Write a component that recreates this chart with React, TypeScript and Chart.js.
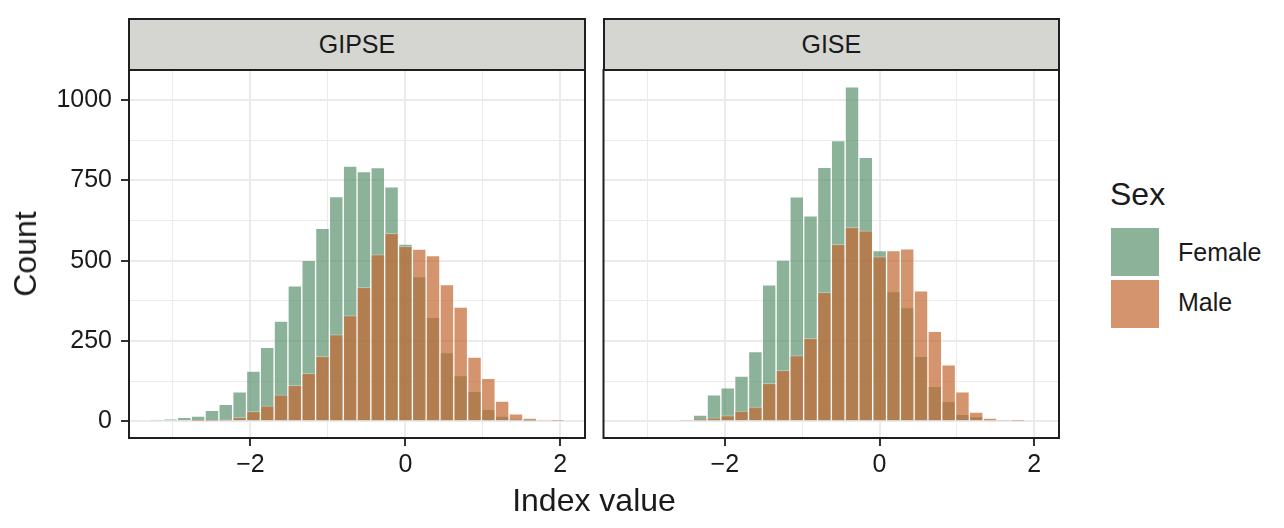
import React, { useEffect, useRef } from 'react';
import { Chart, registerables } from 'chart.js';

Chart.register(...registerables);

// ---- data ----
const panels = ['GIPSE', 'GISE'];
const sexLabels = ['Female', 'Male'];

// centres of the 30 histogram bins (Index value)
const binCenters = [
  -3.211, -3.032, -2.854, -2.676, -2.497, -2.319, -2.140, -1.962, -1.784, -1.605,
  -1.427, -1.248, -1.070, -0.892, -0.713, -0.535, -0.356, -0.178, 0.001, 0.179,
  0.357, 0.536, 0.714, 0.893, 1.071, 1.249, 1.428, 1.606, 1.785, 1.963,
];

const gipseFemale = [
  4, 6, 12, 16, 34, 53, 92, 156, 230, 312,
  422, 501, 601, 700, 795, 778, 790, 730, 552, 451,
  324, 214, 142, 93, 37, 16, 6, 2, 0, 0,
];
const gipseMale = [
  0, 0, 0, 2, 2, 5, 12, 31, 48, 82,
  112, 149, 202, 270, 329, 417, 519, 585, 545, 536,
  516, 426, 356, 200, 134, 63, 23, 10, 4, 2,
];
const giseFemale = [
  0, 0, 0, 0, 3, 19, 82, 104, 141, 217,
  425, 502, 699, 640, 791, 874, 1042, 822, 532, 404,
  354, 202, 109, 62, 22, 15, 3, 0, 0, 0,
];
const giseMale = [
  0, 0, 0, 0, 0, 7, 11, 18, 32, 44,
  118, 159, 205, 258, 402, 551, 604, 593, 513, 532,
  537, 406, 280, 176, 92, 29, 10, 3, 2, 0,
];

const xTicks = [-3, -2, -1, 0, 1, 2];
const xMajorTicks = [-2, 0, 2];
const yTicks = [0, 125, 250, 375, 500, 625, 750, 875, 1000];
const yMajorTicks = [0, 250, 500, 750, 1000];

const X_MIN = -3.568;
const X_MAX = 2.319;
const Y_MIN = -52.1;
const Y_MAX = 1094.1;

// ---- styles ----
const FONT = '"Liberation Sans", Arial, Helvetica, sans-serif';
const FEMALE_FILL = 'rgba(92,146,111,0.7)';
const MALE_FILL = 'rgba(194,104,49,0.7)';
const BAR_EDGE = 'rgba(255,255,255,0.28)';
const GRID = '#EBEBEB';
const DARK = '#1f1f1f';
const TEXT = '#1a1a1a';

const fmtX = (v: number) => (v < 0 ? '\u2212' + Math.abs(v) : String(v));

const panelBorder = {
  id: 'panelBorder',
  afterDraw(chart: any) {
    const { ctx, chartArea } = chart;
    ctx.save();
    ctx.strokeStyle = DARK;
    ctx.lineWidth = 2;
    ctx.strokeRect(chartArea.left, chartArea.top, chartArea.right - chartArea.left, chartArea.bottom - chartArea.top);
    ctx.restore();
  },
};

function Panel(props: {
  female: number[];
  male: number[];
  showY: boolean;
  left: number;
  width: number;
  yWidth: number;
}) {
  const ref = useRef<HTMLCanvasElement | null>(null);
  useEffect(() => {
    if (!ref.current) return;
    const isMajorX = (c: any) => c.tick && xMajorTicks.includes(c.tick.value);
    const isMajorY = (c: any) => c.tick && yMajorTicks.includes(c.tick.value);
    const chart = new Chart(ref.current, {
      type: 'bar',
      data: {
        datasets: [
          {
            label: sexLabels[0],
            data: binCenters.map((x, i) => ({ x, y: props.female[i] })),
            backgroundColor: FEMALE_FILL,
            borderColor: BAR_EDGE,
            borderWidth: 1,
            borderSkipped: 'start',
            grouped: false,
            order: 1,
            barPercentage: 1,
            categoryPercentage: 1,
          },
          {
            label: sexLabels[1],
            data: binCenters.map((x, i) => ({ x, y: props.male[i] })),
            backgroundColor: MALE_FILL,
            borderColor: BAR_EDGE,
            borderWidth: 1,
            borderSkipped: 'start',
            grouped: false,
            order: 0,
            barPercentage: 1,
            categoryPercentage: 1,
          },
        ],
      } as any,
      options: {
        animation: false,
        responsive: false,
        events: [],
        layout: { padding: { top: 10, right: 15, left: 0, bottom: 0 } },
        plugins: { legend: { display: false }, tooltip: { enabled: false } },
        scales: {
          x: {
            type: 'linear',
            min: X_MIN,
            max: X_MAX,
            offset: false,
            afterBuildTicks: (s: any) => {
              s.ticks = xTicks.map((v) => ({ value: v }));
            },
            afterFit: (s: any) => {
              s.height = 90;
              s.paddingLeft = 0;
              s.paddingRight = 0;
            },
            ticks: {
              autoSkip: false,
              maxRotation: 0,
              minRotation: 0,
              padding: 4,
              color: TEXT,
              font: { family: FONT, size: 25 },
              callback: (v: any) => (xMajorTicks.includes(Number(v)) ? fmtX(Number(v)) : ''),
            },
            grid: {
              offset: false,
              color: GRID,
              lineWidth: (c: any) => (isMajorX(c) ? 2 : 1),
              drawTicks: true,
              tickLength: 8,
              tickColor: (c: any) => (isMajorX(c) ? '#333333' : 'rgba(0,0,0,0)'),
              tickWidth: (c: any) => (isMajorX(c) ? 2 : 0),
            },
            border: { display: false },
          },
          y: {
            type: 'linear',
            min: Y_MIN,
            max: Y_MAX,
            afterBuildTicks: (s: any) => {
              s.ticks = yTicks.map((v) => ({ value: v }));
            },
            afterFit: (s: any) => {
              s.width = props.yWidth;
              s.paddingTop = 0;
              s.paddingBottom = 0;
            },
            ticks: {
              display: props.showY,
              autoSkip: false,
              padding: 9,
              color: TEXT,
              font: { family: FONT, size: 25 },
              callback: (v: any) => (yMajorTicks.includes(Number(v)) ? String(v) : ''),
            },
            grid: {
              offset: false,
              color: GRID,
              lineWidth: (c: any) => (isMajorY(c) ? 2 : 1),
              drawTicks: props.showY,
              tickLength: 8,
              tickColor: (c: any) => (isMajorY(c) ? '#333333' : 'rgba(0,0,0,0)'),
              tickWidth: (c: any) => (isMajorY(c) ? 2 : 0),
            },
            border: { display: false },
          },
        },
      } as any,
      plugins: [panelBorder],
    });
    return () => chart.destroy();
  }, []);
  return (
    <canvas
      ref={ref}
      width={props.width}
      height={468}
      style={{ position: 'absolute', left: props.left, top: 60, width: props.width, height: 468 }}
    />
  );
}

function Text(props: {
  text: string;
  x: number;
  baseline: number;
  size: number;
  center?: boolean;
}) {
  return (
    <div
      style={{
        position: 'absolute',
        left: props.x,
        top: props.baseline - 0.8464 * props.size,
        fontSize: props.size,
        lineHeight: props.size + 'px',
        fontFamily: FONT,
        color: TEXT,
        whiteSpace: 'nowrap',
        transform: props.center ? 'translateX(-50%)' : undefined,
      }}
    >
      {props.text}
    </div>
  );
}

function Strip(props: { text: string; left: number; width: number }) {
  return (
    <div
      style={{
        position: 'absolute',
        left: props.left,
        top: 18,
        width: props.width,
        height: 53,
        boxSizing: 'border-box',
        border: '2px solid ' + DARK,
        background: '#D5D6D1',
        display: 'flex',
        alignItems: 'center',
        justifyContent: 'center',
        fontFamily: FONT,
        fontSize: 25,
        color: TEXT,
      }}
    >
      {props.text}
    </div>
  );
}

export default function App() {
  return (
    <div
      style={{
        position: 'fixed',
        left: 0,
        top: 0,
        width: 1284,
        height: 528,
        background: '#ffffff',
        overflow: 'hidden',
      }}
    >
      <Panel female={gipseFemale} male={gipseMale} showY={true} left={0} width={600} yWidth={129} />
      <Panel female={giseFemale} male={giseMale} showY={false} left={594} width={480} yWidth={9.5} />
      <Strip text={panels[0]} left={128} width={458} />
      <Strip text={panels[1]} left={602.5} width={457.7} />
      {/* y axis title */}
      <div
        style={{
          position: 'absolute',
          left: 25,
          top: 254,
          fontFamily: FONT,
          fontSize: 32,
          lineHeight: '32px',
          color: TEXT,
          whiteSpace: 'nowrap',
          transform: 'translate(-50%, -50%) rotate(-90deg)',
        }}
      >
        Count
      </div>
      <Text text="Index value" x={594} baseline={511} size={32} center />
      {/* legend */}
      <Text text="Sex" x={1110} baseline={205} size={32} />
      <div style={{ position: 'absolute', left: 1111, top: 228, width: 48, height: 48, background: FEMALE_FILL }} />
      <div style={{ position: 'absolute', left: 1111, top: 280, width: 48, height: 48, background: MALE_FILL }} />
      <Text text={sexLabels[0]} x={1178} baseline={261.5} size={25} />
      <Text text={sexLabels[1]} x={1178} baseline={311.5} size={25} />
    </div>
  );
}
